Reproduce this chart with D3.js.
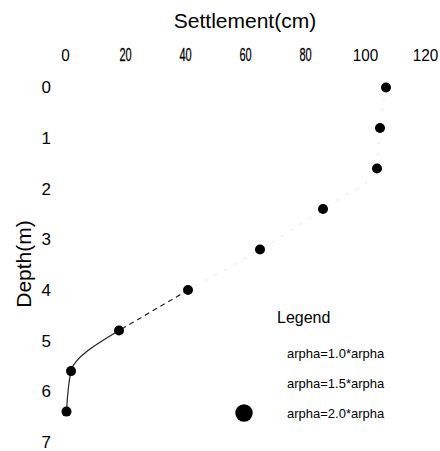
<!DOCTYPE html>
<html>
<head>
<meta charset="utf-8">
<script src="https://cdn.jsdelivr.net/npm/d3@7"></script>
<style>
  body { margin: 0; background: #fff; }
  svg { font-family: 'Liberation Sans', Arial, sans-serif; }
  .axis .domain { display: none; }
</style>
</head>
<body>
<svg id="chart" width="440" height="451"></svg>
<script>
// depth (m) vs settlement (cm), arpha = 2.0*arpha series
const depths = [0, 0.8, 1.6, 2.4, 3.2, 4.0, 4.8, 5.6, 6.4]
const settlement = [107, 105, 104, 86, 65, 41, 18, 2, 0.5]
const xTicks = [0, 20, 40, 60, 80, 100, 120]
const yTicks = [0, 1, 2, 3, 4, 5, 6, 7]
const legendLabels = ['arpha=1.0*arpha', 'arpha=1.5*arpha', 'arpha=2.0*arpha']

const data = depths.map((d, i) => ({ depth: d, s: settlement[i] }))

const svg = d3.select('#chart')

const x = d3.scaleLinear().domain([0, 120]).range([65, 425])
const y = d3.scaleLinear().domain([0, 7]).range([87.5, 442])

// top axis (settlement)
const xAxis = svg.append('g')
  .attr('class', 'axis')
  .attr('transform', 'translate(0,61)')
  .call(d3.axisTop(x).tickValues(xTicks).tickSize(0).tickPadding(0).tickFormat(d3.format('d')))
xAxis.selectAll('text')
  .attr('font-size', d => (d === 0 || d >= 100) ? 17 : 19)
  .attr('fill', '#000')
  .attr('stroke', d => (d === 0 || d >= 100) ? null : '#000')
  .attr('stroke-width', 0.3)
  // the middle labels are squeezed in the original
  .attr('transform', d => (d === 0 || d >= 100) ? 'scale(0.9,1)' : 'scale(0.58,1)')

// left axis (depth)
const yAxis = svg.append('g')
  .attr('class', 'axis')
  .attr('transform', 'translate(51,0)')
  .call(d3.axisLeft(y).tickValues(yTicks).tickSize(0).tickPadding(0).tickFormat(d3.format('d')))
yAxis.selectAll('text')
  .attr('font-size', 17)
  .attr('fill', '#000')

svg.append('text')
  .attr('x', 245).attr('y', 28)
  .attr('text-anchor', 'middle')
  .attr('font-size', 21)
  .text('Settlement(cm)')

svg.append('text')
  .attr('transform', 'translate(31,264) rotate(-90)')
  .attr('text-anchor', 'middle')
  .attr('font-size', 21)
  .text('Depth(m)')

const line = d3.line()
  .x(d => x(d.s))
  .y(d => y(d.depth))
  .curve(d3.curveMonotoneY)

// faint upper part of the curve
svg.append('path')
  .datum(data.slice(0, 6))
  .attr('d', line)
  .attr('fill', 'none')
  .attr('stroke', '#e2e2e2')
  .attr('stroke-width', 1)
  .attr('stroke-dasharray', '2,9')

// dashed middle part
svg.append('path')
  .datum(data.slice(5, 7))
  .attr('d', line)
  .attr('fill', 'none')
  .attr('stroke', '#222')
  .attr('stroke-width', 1.2)
  .attr('stroke-dasharray', '5,4')

// solid lower part
svg.append('path')
  .datum(data.slice(6))
  .attr('d', line)
  .attr('fill', 'none')
  .attr('stroke', '#222')
  .attr('stroke-width', 1.2)

svg.append('g')
  .selectAll('circle')
  .data(data)
  .join('circle')
  .attr('cx', d => x(d.s))
  .attr('cy', d => y(d.depth))
  .attr('r', 5)
  .attr('fill', '#000')

// legend
const legend = svg.append('g')
svg.append('text')
  .attr('x', 277).attr('y', 323)
  .attr('font-size', 16)
  .text('Legend')

legend.selectAll('text')
  .data(legendLabels)
  .join('text')
  .attr('x', 287)
  .attr('y', (d, i) => 358 + i * 30)
  .attr('font-size', 13)
  .text(d => d)

legend.append('circle')
  .attr('cx', 244).attr('cy', 413)
  .attr('r', 8.7)
  .attr('fill', '#000')
</script>
</body>
</html>
